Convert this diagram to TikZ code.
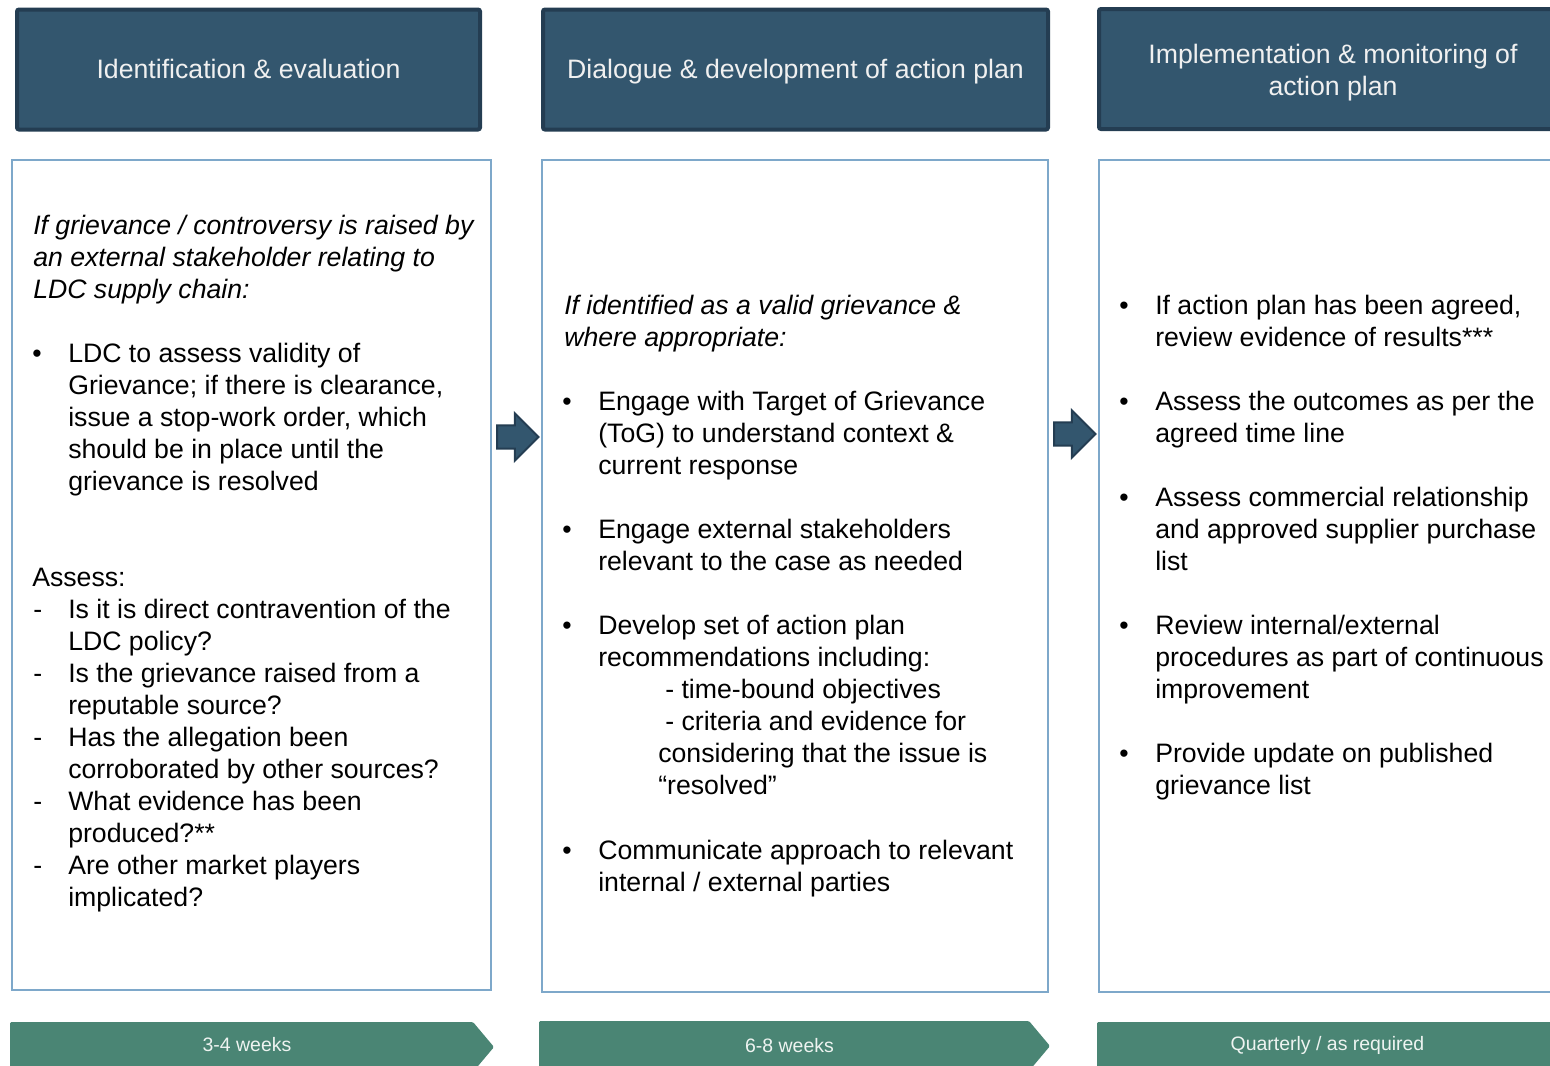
\documentclass[tikz,border=0pt]{standalone}
\usepackage{fontspec}
\setmainfont{Liberation Sans}
\usetikzlibrary{shapes.arrows}

\definecolor{hdfill}{HTML}{33566E}
\definecolor{hdline}{HTML}{243D52}
\definecolor{bxline}{HTML}{7EA8CA}
\definecolor{tmfill}{HTML}{4A8574}
\definecolor{tmtext}{HTML}{EEF4F1}

\tikzset{
  header/.style={draw=hdline, fill=hdfill, line width=3pt, rounded corners=1.5pt,
    text=white!94!black, align=center, inner sep=0pt, minimum height=90pt,
    text height=18pt, text depth=4pt,
    font=\fontsize{20}{24}\selectfont},
  panel/.style={draw=bxline, line width=0.8pt, inner sep=0pt},
  % base anchor of a multi-line node sits on its last line
  body/.style={anchor=base west, inner sep=0pt, align=left,
    font=\fontsize{20}{24}\selectfont},
  bodyit/.style={body, font=\fontsize{20}{24}\selectfont\itshape},
  stagearrow/.style={single arrow, draw=hdline, fill=hdfill, line width=1.5pt,
    inner xsep=0pt, inner ysep=8pt, minimum height=31pt,
    single arrow head extend=9pt},
  timebar/.style={fill=tmfill, rounded corners=1pt},
  timelabel/.style={text=tmtext, inner sep=0pt, font=\fontsize{14.6}{17}\selectfont},
}

\begin{document}
\begin{tikzpicture}[x=0.75pt, y=-0.75pt]
    \useasboundingbox (0,0) rectangle (1550,1065);
    \clip (0,0) rectangle (1550,1065);

    % stage headers
    \node[header, minimum width=347.25pt] (hd1) at (248.5,69.5) {Identification \& evaluation};
    \node[header, minimum width=378.75pt] (hd2) at (795.5,69.5) {Dialogue \& development of action plan};
    \node[header, minimum width=351pt, text height=44pt] (hd3) at (1333,69) {Implementation \& monitoring of\\action plan};

    % content panels
    \node[panel, minimum width=359.25pt, minimum height=622.5pt] (bx1) at (251.5,575) {};
    \node[panel, minimum width=379.5pt, minimum height=624pt] (bx2) at (795,576) {};
    \node[panel, minimum width=360.75pt, minimum height=624pt] (bx3) at (1339.5,576) {};

    % arrows between panels
    \node[stagearrow] (ar12) at (512,437) {};
    \node[stagearrow] (ar23) at (1069,434) {};

    % timing bars
    \fill[timebar] (10,1022) -- (473,1022) -- (494,1047) -- (473,1072) -- (10,1072) -- cycle;
    \fill[timebar] (539,1021) -- (1029,1021) -- (1050,1046) -- (1029,1071) -- (539,1071) -- cycle;
    \fill[timebar] (1097,1022) -- (1560,1022) -- (1581,1047) -- (1560,1072) -- (1097,1072) -- cycle;
    \node[timelabel] (tm1) at (247,1045) {3-4 weeks};
    \node[timelabel] (tm2) at (789.5,1046) {6-8 weeks};
    \node[timelabel] (tm3) at (1327.5,1045) {Quarterly / as required};

    % panel 1
    \node[bodyit] (q1) at (33,298) {If grievance / controversy is raised by\\an external stakeholder relating to\\LDC supply chain:};
    \node[body] (p1b1) at (32,362) {•};
    \node[body] (p1t1) at (68,490) {LDC to assess validity of\\Grievance; if there is clearance,\\issue a stop-work order, which\\should be in place until the\\grievance is resolved};
    \node[body] (as1) at (32,586) {Assess:};
    \foreach \y in {618,682,746,810,874}
      \node[body] (p1d\y) at (33,\y) {-};
    \node[body] (p1t2) at (68,650) {Is it is direct contravention of the\\LDC policy?};
    \node[body] (p1t3) at (68,714) {Is the grievance raised from a\\reputable source?};
    \node[body] (p1t4) at (68,778) {Has the allegation been\\corroborated by other sources?};
    \node[body] (p1t5) at (68,842) {What evidence has been\\produced?**};
    \node[body] (p1t6) at (68,906) {Are other market players\\implicated?};

    % panel 2
    \node[bodyit] (q2) at (564,346) {If identified as a valid grievance \&\\where appropriate:};
    \foreach \y in {410,538,634,859}
      \node[body] (p2b\y) at (562,\y) {•};
    \node[body] (p2t1) at (598,474) {Engage with Target of Grievance\\(ToG) to understand context \&\\current response};
    \node[body] (p2t2) at (598,570) {Engage external stakeholders\\relevant to the case as needed};
    \node[body] (p2t3) at (598,666) {Develop set of action plan\\recommendations including:};
    \node[body] (p2s1) at (665,730) {- time-bound objectives\\- criteria and evidence for};
    \node[body] (p2s2) at (658,794) {considering that the issue is\\“resolved”};
    \node[body] (p2t4) at (598,891) {Communicate approach to relevant\\internal / external parties};

    % panel 3
    \foreach \y in {314,410,506,634,762}
      \node[body] (p3b\y) at (1119,\y) {•};
    \node[body] (p3t1) at (1155,346) {If action plan has been agreed,\\review evidence of results***};
    \node[body] (p3t2) at (1155,442) {Assess the outcomes as per the\\agreed time line};
    \node[body] (p3t3) at (1155,570) {Assess commercial relationship\\and approved supplier purchase\\list};
    \node[body] (p3t4) at (1155,698) {Review internal/external\\procedures as part of continuous\\improvement};
    \node[body] (p3t5) at (1155,794) {Provide update on published\\grievance list};

\end{tikzpicture}
\end{document}
